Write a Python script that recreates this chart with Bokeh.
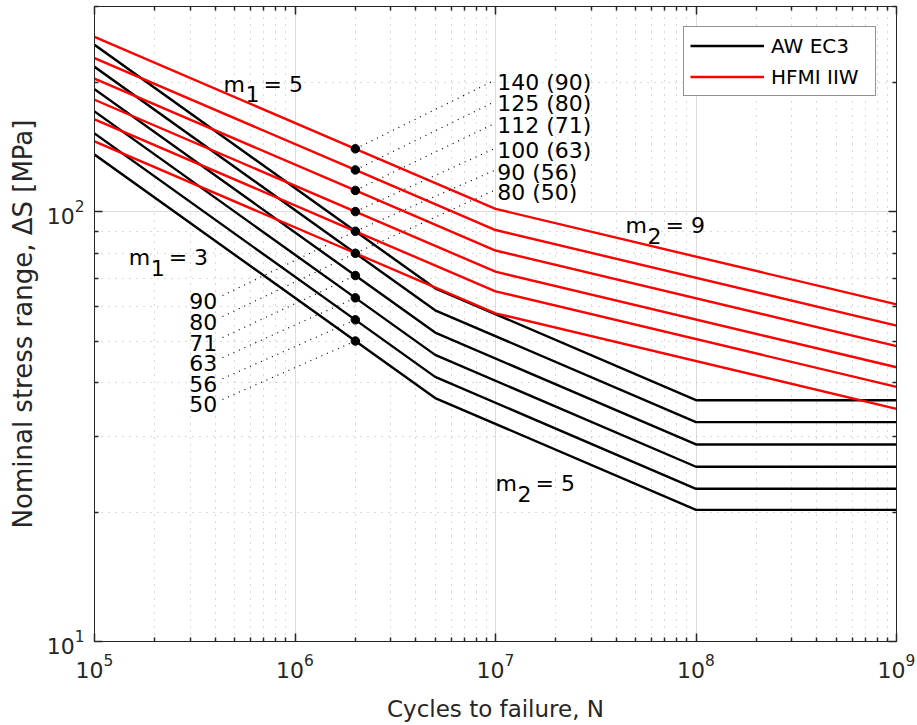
from bokeh.plotting import figure
from bokeh.models import (Range1d, LogAxis, FixedTicker, Legend, LegendItem,
                          CustomJSTickFormatter)
from bokeh.core.properties import value
from bokeh.embed import file_html
from bokeh.resources import INLINE

# ---------------- data ----------------
# AW EC3 detail categories (black), vertices of the S-N curves
AW_N = [1e5, 2e6, 5e6, 1e8, 1e9]
AW_CATEGORIES = ["90", "80", "71", "63", "56", "50"]
AW_90 = [244.30, 90, 66.31, 36.42, 36.42]
AW_80 = [217.15, 80, 58.94, 32.38, 32.38]
AW_71 = [192.72, 71, 52.31, 28.73, 28.73]
AW_63 = [171.01, 63, 46.42, 25.50, 25.50]
AW_56 = [152.01, 56, 41.26, 22.66, 22.66]
AW_50 = [135.72, 50, 36.84, 20.24, 20.24]

# HFMI IIW FAT classes (red)
HF_N = [1e5, 2e6, 1e7, 1e9]
HF_LABELS = ["140 (90)", "125 (80)", "112 (71)", "100 (63)", "90 (56)", "80 (50)"]
HF_140 = [254.88, 140, 101.47, 60.83]
HF_125 = [227.57, 125, 90.60, 54.31]
HF_112 = [203.90, 112, 81.18, 48.66]
HF_100 = [182.06, 100, 72.48, 43.45]
HF_90 = [163.85, 90, 65.23, 39.10]
HF_80 = [145.65, 80, 57.98, 34.76]

# reference points at 2e6 cycles
DOT_N = 2e6
DOT_S = [140, 125, 112, 100, 90, 80, 71, 63, 56, 50]

X_TICKS = [1e5, 1e6, 1e7, 1e8, 1e9]
Y_TICKS = [10, 100]

AW_SERIES = [AW_90, AW_80, AW_71, AW_63, AW_56, AW_50]
AW_VALUES = [90, 80, 71, 63, 56, 50]
HF_SERIES = [HF_140, HF_125, HF_112, HF_100, HF_90, HF_80]
HF_VALUES = [140, 125, 112, 100, 90, 80]

# ---------------- label placement (layout) ----------------
AW_LABEL_N = 4.1e5
AW_LABEL_Y = [62.1, 55.5, 49.6, 44.55, 39.8, 35.6]
AW_LEAD_N = 4.35e5
HF_LABEL_N = 1.02e7
HF_LABEL_Y = [199.8, 178.1, 158.5, 138.7, 123.4, 110.9]
HF_LEAD_N = 9.85e6

FONT = "DejaVu Sans"
TXT = "#262626"

p = figure(x_axis_type="log", y_axis_type="log",
           x_range=Range1d(1e5, 1e9), y_range=Range1d(10, 300),
           width=917, height=725,
           min_border_left=94, min_border_right=21,
           min_border_top=6, min_border_bottom=84,
           output_backend="svg", toolbar_location=None)
p.background_fill_color = "white"
p.border_fill_color = "white"
p.outline_line_color = TXT
p.outline_line_width = 1

x_minor = [m * 10 ** e for e in range(5, 9) for m in range(2, 10)]
y_minor = [m * 10 ** e for e in range(1, 3) for m in range(2, 10) if m * 10 ** e <= 300]
xt = FixedTicker(ticks=X_TICKS, minor_ticks=x_minor)
yt = FixedTicker(ticks=Y_TICKS, minor_ticks=y_minor)


def style_axis(ax):
    ax.axis_line_color = TXT
    ax.axis_line_width = 1
    ax.major_tick_in = 8
    ax.major_tick_out = 0
    ax.minor_tick_in = 4
    ax.minor_tick_out = 0
    ax.major_tick_line_color = TXT
    ax.minor_tick_line_color = TXT
    ax.major_tick_line_width = 1.5
    ax.minor_tick_line_width = 1.5
    ax.major_label_text_font = FONT
    ax.major_label_text_font_size = "22px"
    ax.major_label_text_color = TXT
    ax.axis_label_text_font = FONT
    ax.axis_label_text_font_size = "23px"
    ax.axis_label_text_font_style = "normal"
    ax.axis_label_text_color = TXT


xa = p.xaxis[0]
ya = p.yaxis[0]
xa.ticker = xt
ya.ticker = yt
style_axis(xa)
style_axis(ya)
xa.axis_label = "Cycles to failure, N"
ya.axis_label = "Nominal stress range, \u0394S [MPa]"
ya.axis_label_text_font_size = "26px"
xa.major_label_standoff = 12
ya.major_label_standoff = 10
xa.axis_label_standoff = 15
ya.axis_label_standoff = 6

empty = CustomJSTickFormatter(code="return ''")
top = LogAxis(ticker=xt, formatter=empty)
right = LogAxis(ticker=yt, formatter=empty)
for ax in (top, right):
    style_axis(ax)
    ax.major_label_text_font_size = "0px"
    ax.major_label_standoff = 0
p.add_layout(top, "above")
p.add_layout(right, "right")

for g in (p.xgrid[0], p.ygrid[0]):
    g.grid_line_color = "#dcdcdc"
    g.grid_line_width = 1
    g.minor_grid_line_color = "#b4b4b4"
    g.minor_grid_line_dash = "1 6"
    g.minor_grid_line_width = 1
p.xgrid[0].ticker = xt
p.ygrid[0].ticker = yt

# ---------------- curves ----------------
black_r = None
for s in AW_SERIES:
    r = p.line(AW_N, s, line_color="black", line_width=2.4)
    black_r = black_r or r
red_r = None
for s in HF_SERIES:
    r = p.line(HF_N, s, line_color="#ff0000", line_width=2.4)
    red_r = red_r or r

# leader lines
p.segment(x0=[AW_LEAD_N] * len(AW_VALUES), y0=[y * 1.027 for y in AW_LABEL_Y],
          x1=[DOT_N] * len(AW_VALUES), y1=AW_VALUES,
          line_color="black", line_width=1.2, line_dash="1 5")
p.segment(x0=[DOT_N] * len(HF_VALUES), y0=HF_VALUES,
          x1=[HF_LEAD_N] * len(HF_VALUES), y1=[y * 1.01 for y in HF_LABEL_Y],
          line_color="black", line_width=1.2, line_dash="1 5")

p.scatter(x=[DOT_N] * len(DOT_S), y=DOT_S, size=8.5, color="black")

p.text(x=[AW_LABEL_N] * len(AW_CATEGORIES), y=AW_LABEL_Y, text=AW_CATEGORIES,
       text_font=value(FONT), text_font_size="22px", text_color="black",
       text_align="right", text_baseline="middle")
p.text(x=[HF_LABEL_N] * len(HF_LABELS), y=HF_LABEL_Y, text=HF_LABELS,
       text_font=value(FONT), text_font_size="22px", text_color="black",
       text_align="left", text_baseline="middle")

# slope annotations: (N, S, subscript, value)
SLOPES = [(4.40e5, 197.9, "1", "= 5"), (1.48e5, 78.2, "1", "= 3"),
          (4.45e7, 92.8, "2", "= 9"), (1.0e7, 23.3, "2", "= 5")]
for n, s, sub, val in SLOPES:
    kw = dict(text_font=value(FONT), text_font_size="22px", text_color="black",
              text_align="left", text_baseline="alphabetic")
    p.text(x=[n], y=[s], text=["m"], **kw)
    p.text(x=[n], y=[s], text=[sub], x_offset=22, y_offset=10, **kw)
    p.text(x=[n], y=[s], text=[val], x_offset=40, **kw)

legend = Legend(items=[LegendItem(label="AW EC3", renderers=[black_r]),
                       LegendItem(label="HFMI IIW", renderers=[red_r])],
                location="top_right")
legend.border_line_color = TXT
legend.border_line_width = 1
legend.background_fill_color = "white"
legend.background_fill_alpha = 1
legend.label_text_font = FONT
legend.label_text_font_size = "20px"
legend.label_text_color = "black"
legend.glyph_width = 74
legend.glyph_height = 25
legend.label_height = 25
legend.label_width = 98
legend.spacing = 6
legend.padding = 6
legend.margin = 20
legend.label_standoff = 7
p.add_layout(legend)

open("out.html", "w").write(file_html(p, INLINE))
